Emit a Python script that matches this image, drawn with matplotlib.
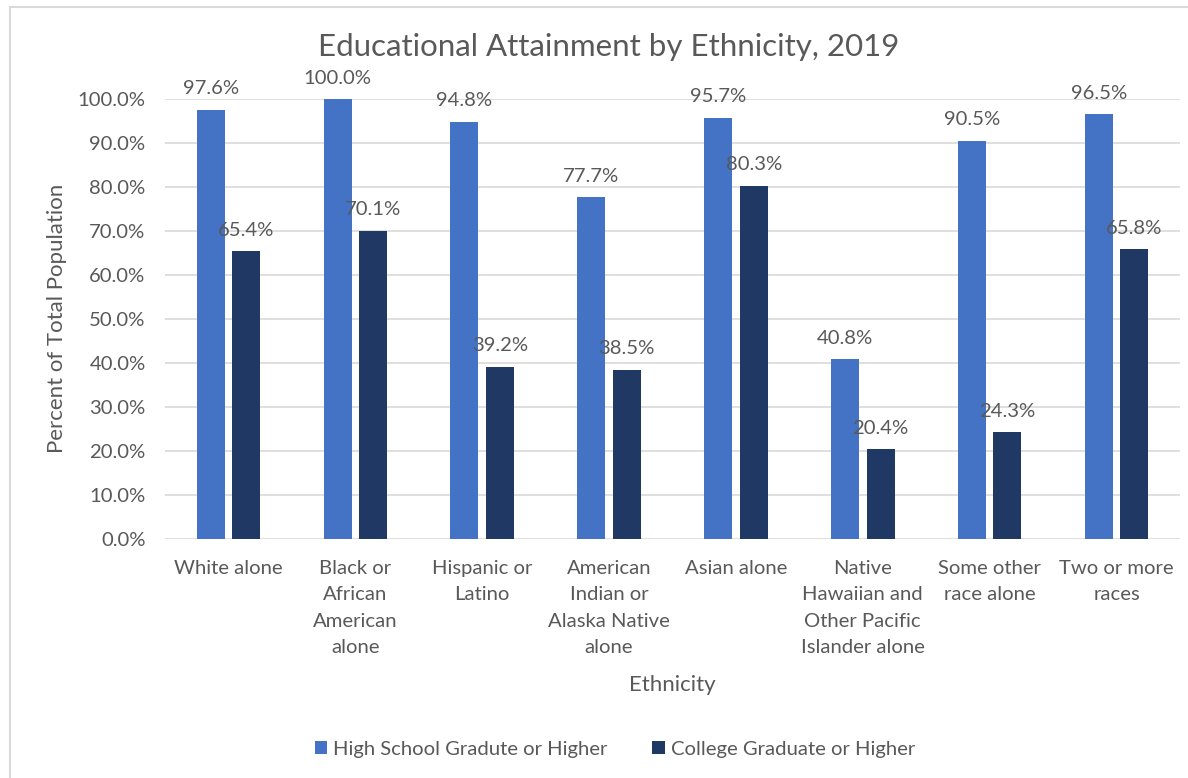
import numpy as np
import matplotlib.pyplot as plt
from matplotlib.patches import Rectangle

plt.rcParams['font.family'] = ['Lato', 'DejaVu Sans']

categories = ["White alone", "Black or\nAfrican\nAmerican\nalone", "Hispanic or\nLatino",
              "American\nIndian or\nAlaska Native\nalone", "Asian alone",
              "Native\nHawaiian and\nOther Pacific\nIslander alone",
              "Some other\nrace alone", "Two or more\nraces"]
high_school = [97.6, 100.0, 94.8, 77.7, 95.7, 40.8, 90.5, 96.5]
college = [65.4, 70.1, 39.2, 38.5, 80.3, 20.4, 24.3, 65.8]
yticks = np.arange(0, 101, 10)

txt = "#595959"
blue = "#4472C4"
dark = "#203864"
fs = 14.6

fig = plt.figure(figsize=(11.88, 7.78), dpi=100)
fig.patches.append(Rectangle((10/1188, -0.1), 1.2, 1 - 7/778 + 0.1, transform=fig.transFigure,
                             fill=False, edgecolor="#D9D9D9", linewidth=1.5))
ax = fig.add_axes([165/1188, 1 - 539/778, 1015/1188, 440/778])

x = np.arange(len(categories))
w = 0.22
b1 = ax.bar(x - 0.14, high_school, w, color=blue, label="High School Gradute or Higher", zorder=3)
b2 = ax.bar(x + 0.14, college, w, color=dark, label="College Graduate or Higher", zorder=3)

for bars, vals in ((b1, high_school), (b2, college)):
    for r, v in zip(bars, vals):
        ax.annotate("%.1f%%" % v, (r.get_x() + r.get_width()/2, v), xytext=(0, 9),
                    textcoords="offset points", ha="center", va="bottom",
                    fontsize=fs, color=txt, clip_on=False, zorder=4)

ax.set_xlim(-0.5, len(categories) - 0.5)
ax.set_ylim(0, 100)
ax.set_yticks(yticks)
ax.set_yticklabels(["%.1f%%" % t for t in yticks])
ax.set_xticks(x)
ax.set_xticklabels(categories, linespacing=1.68, va="top")
ax.tick_params(axis="both", length=0, labelsize=fs, labelcolor=txt)
ax.tick_params(axis="x", pad=15)
ax.tick_params(axis="y", pad=14)
ax.grid(axis="y", color="#D9D9D9", linewidth=1.2, zorder=0)
for s in ax.spines.values():
    s.set_visible(False)

fig.text(609/1188, 1 - 47/778, "Educational Attainment by Ethnicity, 2019", ha="center",
         va="center", fontsize=22.5, color=txt)
fig.text(57/1188, 1 - 318/778, "Percent of Total Population", rotation=90, ha="center",
         va="center", fontsize=16, color=txt)
fig.text(672/1188, 1 - 685/778, "Ethnicity", ha="center", va="center", fontsize=16, color=txt)

fig.legend(loc="center", bbox_to_anchor=(615/1188, 1 - 749/778), ncol=2, frameon=False,
           fontsize=fs, labelcolor=txt, handlelength=0.6, handleheight=0.6,
           handletextpad=0.3, columnspacing=2.2)

fig.savefig("out.png", dpi=100)
